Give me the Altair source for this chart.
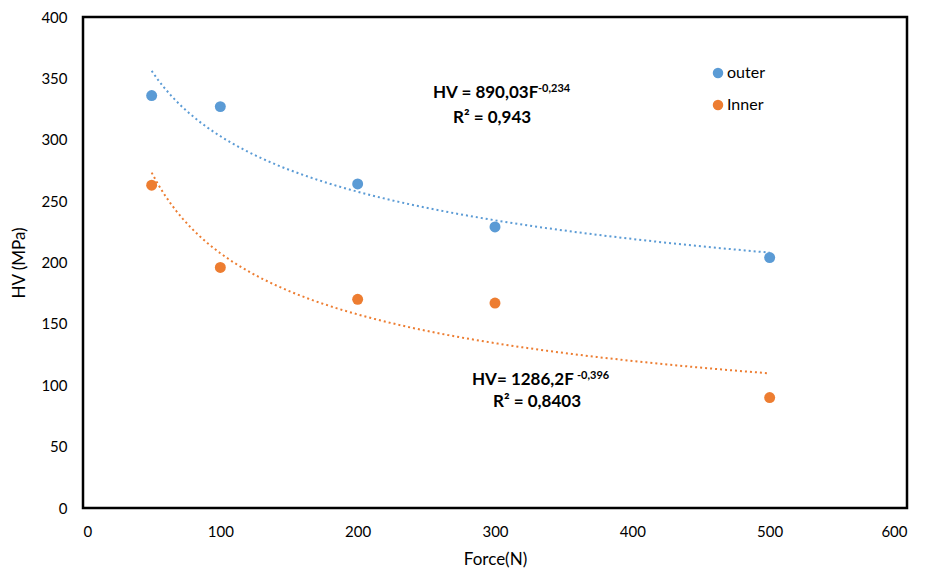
import altair as alt
import pandas as pd

force = [50, 100, 200, 300, 500]
outer_hv = [336, 327, 264, 229, 204]
inner_hv = [263, 196, 170, 167, 90]
series_names = ["outer", "Inner"]
colors = ["#5B9BD5", "#ED7D31"]

df = pd.DataFrame({
    "F": force * 2,
    "HV": outer_hv + inner_hv,
    "series": [series_names[0]] * len(force) + [series_names[1]] * len(force),
})

FONT = "Lato"
W, H = 824, 491

xscale = alt.Scale(domain=[0, 600], nice=False)
yscale = alt.Scale(domain=[0, 400], nice=False)
cscale = alt.Scale(domain=series_names, range=colors)

legend = alt.Legend(title=None, orient="none", legendX=627, legendY=48,
                    symbolType="circle", symbolSize=110, symbolStrokeWidth=0,
                    symbolOpacity=1,
                    labelFontSize=16, labelFont=FONT, rowPadding=16,
                    labelOffset=1, labelColor="#000")

base = alt.Chart(df)

points = base.mark_circle(size=120, opacity=1).encode(
    x=alt.X("F:Q", scale=xscale, title="Force(N)",
            axis=alt.Axis(values=[0, 100, 200, 300, 400, 500, 600], grid=False, ticks=False,
                          domain=False, labelPadding=16, titlePadding=12)),
    y=alt.Y("HV:Q", scale=yscale, title="HV (MPa)",
            axis=alt.Axis(values=[0, 50, 100, 150, 200, 250, 300, 350, 400], grid=False, ticks=False,
                          domain=False, labelPadding=16, titlePadding=12)),
    color=alt.Color("series:N", scale=cscale, legend=legend),
)

trend = base.transform_regression("F", "HV", method="pow", groupby=["series"],
                                  extent=[50, 500]).mark_line(
    strokeDash=[2, 3], strokeWidth=2).encode(
    x=alt.X("F:Q", scale=xscale),
    y=alt.Y("HV:Q", scale=yscale),
    color=alt.Color("series:N", scale=cscale, legend=legend),
)

ann_main = ["HV = 890,03F", "R\u00b2 = 0,943", "HV= 1286,2F", "R\u00b2 = 0,8403"]
ann_sup = ["-0,234", "-0,396"]

def txt(s, x, y, size=17):
    return alt.Chart(pd.DataFrame({"t": [s]})).mark_text(
        align="left", baseline="alphabetic", fontWeight="bold", font=FONT,
        fontSize=size, color="#000").encode(
        text="t:N", x=alt.value(x), y=alt.value(y))

texts = [
    txt(ann_main[0], 350, 81),
    txt(ann_sup[0], 455, 75, 11),
    txt(ann_main[1], 370, 106),
    txt(ann_main[2], 389, 368),
    txt(ann_sup[1], 494, 362, 11),
    txt(ann_main[3], 410, 390),
]

chart = alt.layer(trend, points, *texts).properties(
    width=W, height=H,
    autosize=alt.AutoSizeParams(type="none"),
    padding={"left": 83, "top": 17, "right": 25, "bottom": 61},
).configure_view(stroke="#000", strokeWidth=2.5).configure_axis(
    labelFont=FONT, labelFontSize=15, labelColor="#000",
    titleFont=FONT, titleFontSize=17, titleFontWeight="normal", titleColor="#000",
)

chart.save("out.html", embed_options={"renderer": "svg", "actions": False})
